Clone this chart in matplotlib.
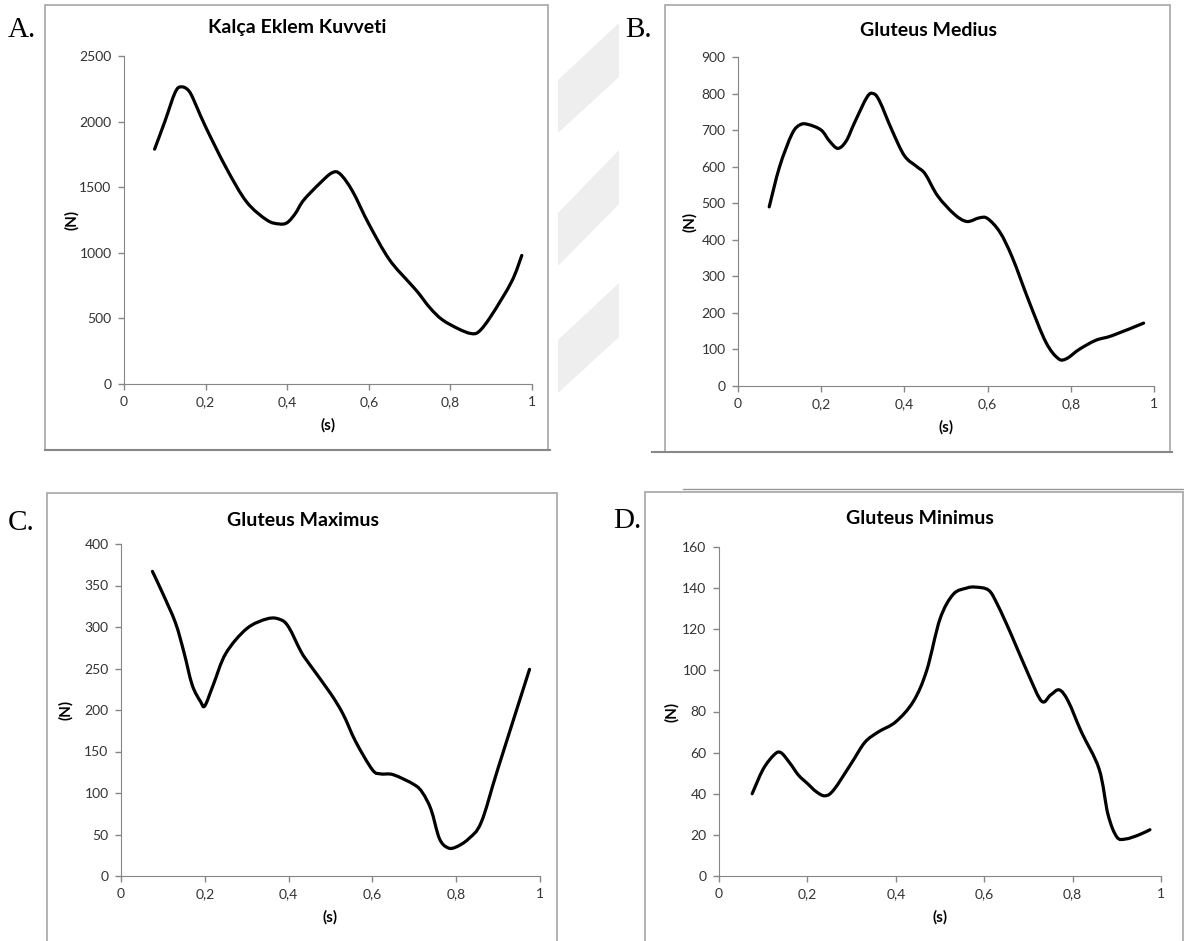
import numpy as np
import matplotlib.pyplot as plt
from matplotlib.patches import Rectangle, Polygon, PathPatch
from matplotlib.lines import Line2D
from matplotlib.path import Path

plt.rcParams['font.family'] = ['Lato', 'DejaVu Sans']

# panel A - Kalça Eklem Kuvveti
a_t = [0.075, 0.10, 0.125, 0.14, 0.16, 0.18, 0.20, 0.25, 0.30, 0.35, 0.38, 0.40,
       0.42, 0.44, 0.48, 0.51, 0.53, 0.56, 0.60, 0.65, 0.70, 0.72, 0.75, 0.78,
       0.82, 0.85, 0.87, 0.90, 0.95, 0.975]
a_f = [1790, 2000, 2220, 2265, 2230, 2100, 1960, 1650, 1390, 1250, 1220, 1230,
       1300, 1400, 1530, 1610, 1600, 1470, 1220, 950, 770, 700, 580, 490,
       420, 385, 400, 520, 780, 980]

# panel B - Gluteus Medius
b_t = [0.075, 0.10, 0.13, 0.15, 0.17, 0.20, 0.22, 0.24, 0.26, 0.28, 0.31, 0.325,
       0.34, 0.37, 0.40, 0.43, 0.45, 0.48, 0.52, 0.55, 0.58, 0.60, 0.63, 0.66,
       0.70, 0.74, 0.77, 0.79, 0.82, 0.86, 0.90, 0.975]
b_f = [490, 600, 690, 715, 715, 700, 670, 650, 670, 720, 790, 800,
       780, 700, 630, 600, 580, 520, 470, 450, 460, 458, 420, 350,
       230, 120, 75, 75, 100, 125, 138, 172]

# panel C - Gluteus Maximus
c_t = [0.075, 0.10, 0.13, 0.15, 0.17, 0.19, 0.20, 0.22, 0.25, 0.30, 0.35, 0.38,
       0.40, 0.43, 0.45, 0.50, 0.53, 0.56, 0.60, 0.62, 0.65, 0.70, 0.72, 0.74,
       0.76, 0.78, 0.80, 0.83, 0.86, 0.90, 0.975]
c_f = [367, 340, 305, 270, 230, 210, 205, 230, 268, 298, 310, 309,
       300, 270, 255, 220, 195, 162, 128, 123, 122, 110, 100, 80,
       45, 34, 35, 45, 65, 130, 249]

# panel D - Gluteus Minimus
d_t = [0.075, 0.10, 0.125, 0.14, 0.16, 0.18, 0.20, 0.22, 0.24, 0.26, 0.30, 0.33,
       0.36, 0.40, 0.44, 0.47, 0.50, 0.53, 0.56, 0.58, 0.61, 0.63, 0.66, 0.70,
       0.73, 0.75, 0.77, 0.79, 0.82, 0.86, 0.88, 0.90, 0.92, 0.95, 0.975]
d_f = [40, 52, 59, 60, 55, 49, 45, 41, 39, 42, 55, 65,
       70, 75, 85, 100, 125, 137, 140, 140.5, 139, 132, 118, 98,
       85, 88, 90.5, 85, 70, 52, 30, 19, 18, 20, 22.5]

titles = ['Kalça Eklem Kuvveti', 'Gluteus Medius', 'Gluteus Maximus', 'Gluteus Minimus']
letters = ['A.', 'B.', 'C.', 'D.']
x_ticks = [0, 0.2, 0.4, 0.6, 0.8, 1]
x_labels = ['0', '0,2', '0,4', '0,6', '0,8', '1']
y_ticks = [list(range(0, 2501, 500)), list(range(0, 901, 100)),
           list(range(0, 401, 50)), list(range(0, 161, 20))]

W, H = 1184, 941
fig = plt.figure(figsize=(W / 100, H / 100), dpi=100)


def px(x0, y0, x1, y1):
    return [x0 / W, 1 - y1 / H, (x1 - x0) / W, (y1 - y0) / H]


def smooth_path(x, y):
    # excel style "smoothed line": bezier segments through every data point
    p = np.column_stack([x, y]).astype(float)
    verts = [p[0]]
    codes = [Path.MOVETO]
    n = len(p)
    for i in range(n - 1):
        p0 = p[i - 1] if i > 0 else p[i]
        p3 = p[i + 2] if i + 2 < n else p[i + 1]
        c1 = p[i] + (p[i + 1] - p0) / 6
        c2 = p[i + 1] - (p3 - p[i]) / 6
        verts += [c1, c2, p[i + 1]]
        codes += [Path.CURVE4] * 3
    return Path(verts, codes)


# grey watermark stripes between A and B
for ya, yb in [(80, 23), (213, 150), (340, 283)]:
    pts = [(558, ya), (619, yb), (619, yb + 54), (558, ya + 53)]
    fig.patches.append(Polygon([(x / W, 1 - y / H) for x, y in pts], closed=True,
                               transform=fig.transFigure, facecolor='#eeeeee',
                               edgecolor='none'))

# chart-area frames (pixel boxes)
frames = [(45, 5, 548, 450), (665, 5, 1170, 452), (47, 493, 557, 960), (645, 492, 1183, 960)]
for x0, y0, x1, y1 in frames:
    fig.patches.append(Rectangle((x0 / W, 1 - y1 / H), (x1 - x0) / W, (y1 - y0) / H,
                                 transform=fig.transFigure, fill=False,
                                 edgecolor='#a6a6a6', linewidth=1.2))
fig.lines.append(Line2D([45 / W, 550 / W], [1 - 450 / H] * 2, transform=fig.transFigure,
                        color='#888888', lw=1.5))
fig.lines.append(Line2D([652 / W, 1172 / W], [1 - 452 / H] * 2, transform=fig.transFigure,
                        color='#888888', lw=1.5))
fig.lines.append(Line2D([683 / W, 1183 / W], [1 - 489 / H] * 2, transform=fig.transFigure,
                        color='#999999', lw=1.0))

axes_px = [(124, 56, 532, 384), (738, 57, 1154, 386), (121, 544, 540, 876), (719, 547, 1161, 876)]
title_xy = [(297, 28), (928, 31), (303, 520), (920, 518)]
letter_xy = [(8, 30), (625, 30), (8, 523), (613, 521)]
ylab_x = [72, 690, 66, 672]
series = [(a_t, a_f), (b_t, b_f), (c_t, c_f), (d_t, d_f)]

for i in range(4):
    x0, y0, x1, y1 = axes_px[i]
    ax = fig.add_axes(px(x0, y0, x1, y1))
    t, f = series[i]
    ax.add_patch(PathPatch(smooth_path(t, f), facecolor='none', edgecolor='black',
                           lw=2.3, capstyle='round', joinstyle='round'))
    ax.set_xlim(0, 1)
    ax.set_ylim(y_ticks[i][0], y_ticks[i][-1])
    ax.set_xticks(x_ticks)
    ax.set_xticklabels(x_labels)
    ax.set_yticks(y_ticks[i])
    ax.tick_params(direction='out', length=4, width=1, color='#868686',
                   labelsize=10, labelcolor='#333333', pad=5)
    ax.spines['top'].set_visible(False)
    ax.spines['right'].set_visible(False)
    ax.spines['left'].set_color('#868686')
    ax.spines['bottom'].set_color('#868686')
    ax.patch.set_alpha(0)

    tx, ty = title_xy[i]
    fig.text(tx / W, 1 - ty / H, titles[i], ha='center', va='center',
             fontsize=14, fontweight='bold')
    lx, ly = letter_xy[i]
    fig.text(lx / W, 1 - ly / H, letters[i], ha='left', va='center',
             fontsize=21, family='Liberation Serif')
    fig.text(ylab_x[i] / W, 1 - ((y0 + y1) / 2) / H, '(N)', rotation=90,
             ha='center', va='center', fontsize=11, fontweight='bold')
    fig.text(((x0 + x1) / 2) / W, 1 - (y1 + 41) / H, '(s)', ha='center', va='center',
             fontsize=11, fontweight='bold')

fig.savefig('out.png', dpi=100)
